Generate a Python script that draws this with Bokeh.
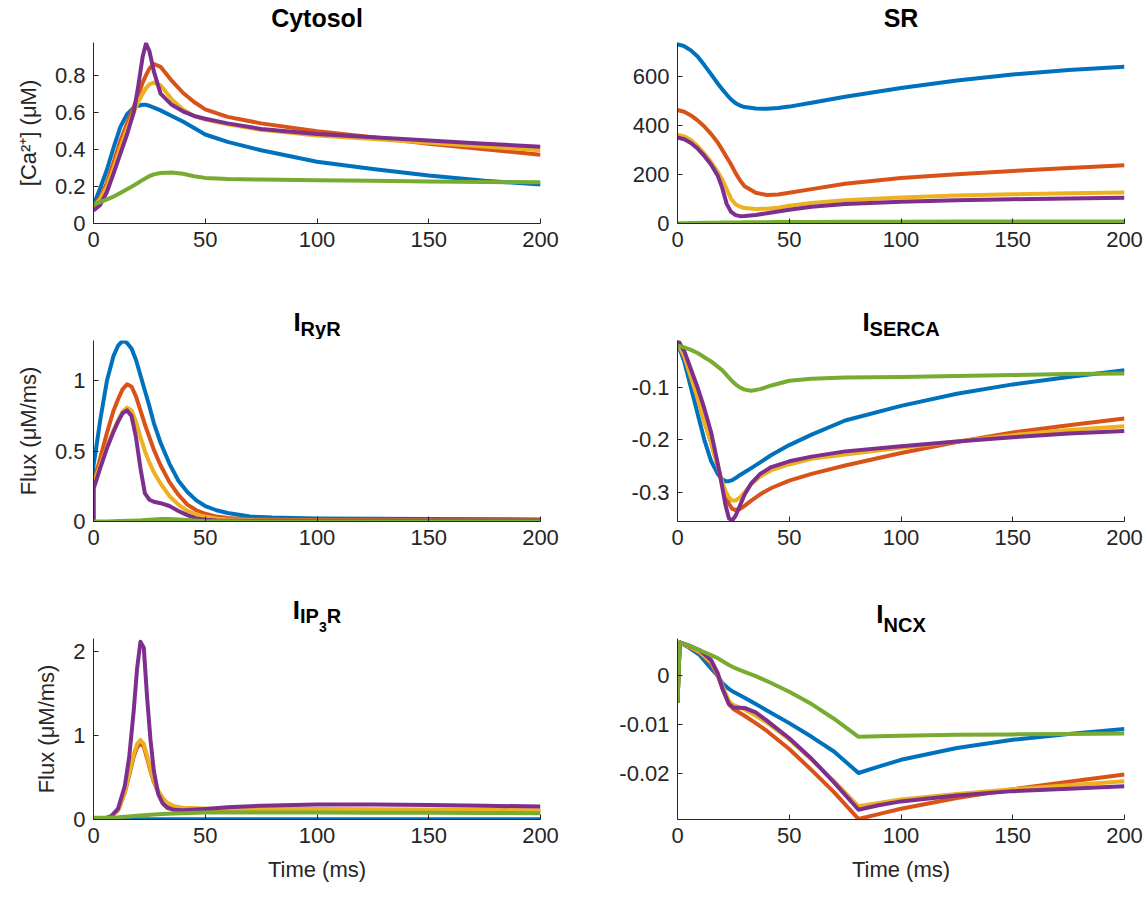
from bokeh.plotting import figure
from bokeh.layouts import gridplot
from bokeh.models import Range1d, FixedTicker, CustomJSTickFormatter, Label
from bokeh.embed import file_html
from bokeh.resources import INLINE

COLORS = ["#0072BD", "#D95319", "#EDB120", "#7E2F8E", "#77AC30"]
FONT = "Liberation Sans"
AX = "#262626"

# ---------------- Cytosol ----------------
CYTO_T = [0, 3, 6, 9, 12, 15, 18, 20, 22, 23.5, 25, 27, 30, 35, 40, 45, 50, 60, 75, 100, 125, 150, 175, 200]
CYTO_BLUE = [0.10, 0.19, 0.29, 0.41, 0.52, 0.59, 0.625, 0.635, 0.64, 0.64, 0.635, 0.625, 0.61, 0.58, 0.55, 0.515, 0.48, 0.44, 0.395, 0.333, 0.294, 0.259, 0.231, 0.21]
CYTO_ORANGE = [0.09, 0.14, 0.22, 0.33, 0.445, 0.54, 0.63, 0.69, 0.76, 0.80, 0.835, 0.86, 0.845, 0.77, 0.705, 0.655, 0.615, 0.575, 0.54, 0.497, 0.465, 0.43, 0.40, 0.371]
CYTO_YELLOW = [0.09, 0.13, 0.20, 0.30, 0.41, 0.51, 0.60, 0.655, 0.70, 0.73, 0.75, 0.76, 0.745, 0.67, 0.615, 0.58, 0.56, 0.535, 0.505, 0.475, 0.455, 0.435, 0.415, 0.395]
CYTO_PURPLE = [0.07, 0.10, 0.17, 0.27, 0.375, 0.48, 0.60, 0.74, 0.90, 0.97, 0.93, 0.82, 0.70, 0.64, 0.605, 0.58, 0.565, 0.54, 0.51, 0.483, 0.465, 0.447, 0.43, 0.414]
CYTO_GREEN = [0.10, 0.115, 0.13, 0.145, 0.165, 0.185, 0.205, 0.22, 0.235, 0.245, 0.255, 0.265, 0.272, 0.275, 0.268, 0.255, 0.246, 0.24, 0.237, 0.233, 0.23, 0.227, 0.224, 0.222]

# ---------------- SR ----------------
SR_T = [0, 3, 6, 9, 12, 15, 18, 20, 22, 24, 26, 28, 30, 35, 40, 45, 50, 60, 75, 100, 125, 150, 175, 200]
SR_BLUE = [730, 722, 705, 680, 645, 608, 570, 547, 525, 505, 490, 480, 474, 468, 467, 470, 476, 492, 516, 552, 582, 607, 625, 638]
SR_ORANGE = [462, 455, 440, 420, 395, 365, 330, 300, 270, 240, 205, 175, 152, 125, 116, 118, 125, 140, 162, 185, 201, 214, 226, 237]
SR_YELLOW = [362, 355, 340, 315, 285, 250, 210, 180, 140, 100, 78, 68, 63, 59, 60, 64, 72, 84, 95, 106, 114, 119, 123, 126]
SR_PURPLE = [350, 343, 328, 305, 275, 240, 195, 145, 80, 47, 34, 30, 31, 35, 42, 49, 56, 68, 79, 89, 95, 99, 102, 105]
SR_GREEN = [1, 1, 2, 2, 3, 3, 3, 4, 4, 4, 4, 4, 5, 5, 5, 6, 6, 6, 7, 7, 8, 8, 8, 8]

# ---------------- I_RyR ----------------
RYR_T = [0, 0, 1, 3, 6, 9, 11, 13, 15, 17, 19, 21, 23, 25, 27, 30, 34, 38, 42, 46, 50, 55, 60, 70, 80, 100, 150, 200]
RYR_BLUE = [0, 0.40, 0.50, 0.72, 1.00, 1.18, 1.25, 1.285, 1.27, 1.23, 1.15, 1.04, 0.93, 0.82, 0.70, 0.56, 0.41, 0.29, 0.21, 0.15, 0.11, 0.08, 0.06, 0.035, 0.028, 0.022, 0.018, 0.015]
RYR_ORANGE = [0, 0.28, 0.33, 0.45, 0.63, 0.79, 0.87, 0.94, 0.975, 0.96, 0.89, 0.79, 0.69, 0.60, 0.51, 0.40, 0.28, 0.19, 0.12, 0.08, 0.055, 0.035, 0.025, 0.015, 0.012, 0.010, 0.009, 0.008]
RYR_YELLOW = [0, 0.27, 0.31, 0.40, 0.53, 0.65, 0.72, 0.78, 0.81, 0.79, 0.71, 0.60, 0.50, 0.42, 0.35, 0.27, 0.18, 0.12, 0.075, 0.05, 0.035, 0.022, 0.015, 0.010, 0.008, 0.007, 0.006, 0.006]
RYR_PURPLE = [0, 0.23, 0.28, 0.38, 0.52, 0.64, 0.71, 0.77, 0.79, 0.75, 0.60, 0.38, 0.20, 0.155, 0.14, 0.13, 0.11, 0.075, 0.045, 0.022, 0.012, 0.008, 0.006, 0.005, 0.005, 0.005, 0.005, 0.005]
RYR_GREEN = [0, 0, 0, 0, 0, 0.002, 0.003, 0.004, 0.005, 0.006, 0.007, 0.008, 0.010, 0.012, 0.014, 0.017, 0.018, 0.015, 0.010, 0.006, 0.003, 0.002, 0.001, 0, 0, 0, 0, 0]

# ---------------- I_SERCA ----------------
SERCA_T = [0, 3, 6, 9, 12, 15, 18, 20, 21.5, 23, 24.5, 26, 28, 30, 33, 37, 42, 50, 60, 75, 100, 125, 150, 175, 200]
SERCA_BLUE = [-0.015, -0.05, -0.10, -0.15, -0.20, -0.24, -0.265, -0.275, -0.279, -0.279, -0.277, -0.273, -0.267, -0.262, -0.254, -0.243, -0.229, -0.21, -0.19, -0.163, -0.135, -0.112, -0.094, -0.08, -0.067]
SERCA_ORANGE = [-0.013, -0.04, -0.08, -0.12, -0.165, -0.205, -0.25, -0.283, -0.305, -0.322, -0.332, -0.334, -0.332, -0.326, -0.316, -0.304, -0.292, -0.278, -0.265, -0.249, -0.225, -0.204, -0.186, -0.172, -0.159]
SERCA_YELLOW = [-0.013, -0.04, -0.08, -0.12, -0.165, -0.205, -0.25, -0.28, -0.298, -0.31, -0.316, -0.316, -0.31, -0.30, -0.285, -0.27, -0.258, -0.247, -0.236, -0.228, -0.215, -0.203, -0.191, -0.181, -0.174]
SERCA_PURPLE = [-0.008, -0.03, -0.065, -0.10, -0.14, -0.185, -0.245, -0.29, -0.325, -0.35, -0.354, -0.345, -0.325, -0.305, -0.283, -0.265, -0.252, -0.241, -0.232, -0.222, -0.212, -0.203, -0.195, -0.188, -0.183]
SERCA_GREEN = [-0.02, -0.023, -0.028, -0.034, -0.042, -0.05, -0.06, -0.067, -0.074, -0.081, -0.088, -0.094, -0.10, -0.104, -0.106, -0.103, -0.096, -0.087, -0.083, -0.081, -0.08, -0.078, -0.076, -0.074, -0.073]

# ---------------- I_IP3R ----------------
IP3R_T = [0, 5, 8, 11, 14, 16, 18, 19.5, 21, 22.5, 24, 25.5, 27, 29, 31, 33, 36, 40, 50, 60, 75, 100, 125, 150, 175, 200]
IP3R_BLUE = [0, 0.001, 0.001, 0.001, 0.002, 0.002, 0.002, 0.002, 0.002, 0.002, 0.002, 0.002, 0.002, 0.002, 0.002, 0.002, 0.002, 0.002, 0.002, 0.002, 0.002, 0.002, 0.002, 0.002, 0.002, 0.002]
IP3R_ORANGE = [0, 0.01, 0.04, 0.11, 0.32, 0.53, 0.75, 0.86, 0.91, 0.87, 0.73, 0.58, 0.45, 0.32, 0.24, 0.19, 0.15, 0.13, 0.12, 0.117, 0.115, 0.115, 0.113, 0.11, 0.105, 0.10]
IP3R_YELLOW = [0, 0.01, 0.04, 0.11, 0.33, 0.55, 0.78, 0.90, 0.95, 0.90, 0.76, 0.60, 0.47, 0.34, 0.26, 0.20, 0.16, 0.14, 0.13, 0.127, 0.125, 0.125, 0.123, 0.12, 0.115, 0.11]
IP3R_PURPLE = [0, 0.01, 0.04, 0.13, 0.40, 0.75, 1.30, 1.80, 2.12, 2.05, 1.45, 0.95, 0.58, 0.30, 0.19, 0.14, 0.115, 0.11, 0.125, 0.145, 0.165, 0.178, 0.18, 0.172, 0.163, 0.155]
IP3R_GREEN = [0.02, 0.022, 0.025, 0.028, 0.033, 0.037, 0.041, 0.044, 0.047, 0.05, 0.053, 0.056, 0.059, 0.063, 0.066, 0.069, 0.073, 0.076, 0.083, 0.085, 0.085, 0.083, 0.082, 0.08, 0.078, 0.075]

# ---------------- I_NCX ----------------
NCX_T = [0, 1, 5, 10, 15, 18, 20, 23, 25, 30, 35, 40, 50, 60, 70, 81, 90, 100, 125, 150, 175, 200]
NCX_BLUE = [-0.0055, 0.0068, 0.0058, 0.0042, 0.0015, 0.0, -0.0015, -0.0027, -0.0033, -0.0045, -0.0058, -0.0071, -0.0097, -0.0125, -0.0155, -0.0199, -0.0186, -0.0172, -0.0148, -0.0131, -0.0119, -0.0109]
NCX_ORANGE = [-0.0055, 0.0068, 0.006, 0.0047, 0.0025, 0.0, -0.0025, -0.0058, -0.0068, -0.0082, -0.0097, -0.0113, -0.015, -0.0193, -0.0238, -0.0293, -0.0283, -0.0272, -0.025, -0.0232, -0.0217, -0.0202]
NCX_YELLOW = [-0.0055, 0.0068, 0.006, 0.0048, 0.0028, 0.0004, -0.002, -0.0052, -0.006, -0.0069, -0.0082, -0.0096, -0.013, -0.0172, -0.0215, -0.0267, -0.026, -0.0253, -0.0242, -0.0232, -0.0224, -0.0216]
NCX_PURPLE = [-0.0055, 0.0068, 0.0062, 0.0052, 0.0032, 0.0005, -0.0025, -0.0058, -0.0065, -0.0066, -0.0075, -0.0092, -0.0128, -0.017, -0.0218, -0.0274, -0.0265, -0.0257, -0.0245, -0.0236, -0.0231, -0.0226]
NCX_GREEN = [-0.0055, 0.0068, 0.0062, 0.0052, 0.0042, 0.0036, 0.003, 0.0022, 0.0017, 0.0008, -0.0001, -0.0011, -0.0033, -0.0058, -0.0088, -0.0125, -0.0124, -0.0123, -0.0121, -0.012, -0.0119, -0.0118]

X_TICKS = [0, 50, 100, 150, 200]

FIG_W = 574
TITLE_H = [40, 76, 75]            # title strip heights (rows 1..3)
PANEL_H = [223, 223, 260]         # panel figure heights
COL_BORDERS = [(93, 34), (103, 24)]           # left, right
ROW_BORDERS = [(2, 40), (1, 41), (1, 78)]     # top, bottom

fmt = CustomJSTickFormatter(code="return String(Math.round(tick*1e6)/1e6);")

CHAR_W = {"I": 0.278, "R": 0.722, "y": 0.556, "S": 0.667, "E": 0.667, "C": 0.722, "A": 0.722,
          "P": 0.667, "N": 0.722, "X": 0.667, "3": 0.556, "t": 0.333, "o": 0.611, "s": 0.556, "l": 0.278}


def text_w(txt, size):
    return sum(CHAR_W.get(ch, 0.6) for ch in txt) * size


def make_title(row, col, parts):
    """parts: (text, font px, baseline distance above the strip's bottom edge)"""
    lb, rb = COL_BORDERS[col]
    t = figure(width=FIG_W, height=TITLE_H[row], x_range=Range1d(0, 1), y_range=Range1d(0, 1),
               output_backend="svg", toolbar_location=None,
               x_axis_location=None, y_axis_location=None,
               min_border_left=lb, min_border_right=rb, min_border_top=0, min_border_bottom=0)
    t.grid.visible = False
    t.outline_line_color = None
    fw = FIG_W - lb - rb            # frame is aligned with the panel frame below
    total = sum(text_w(txt, size) for txt, size, by in parts)
    x = fw / 2 - total / 2
    for txt, size, by in parts:
        t.add_layout(Label(x=x, y=by + 0.3 * size, x_units="screen", y_units="screen", text=txt,
                           text_font=FONT, text_font_size=f"{size}px", text_font_style="bold",
                           text_color="black", text_align="left", text_baseline="alphabetic"))
        x += text_w(txt, size)
    return t


def make_panel(row, col, t, series, yr, yticks, ylabel=None, xlabel=None):
    lb, rb = COL_BORDERS[col]
    tb, bb = ROW_BORDERS[row]
    p = figure(width=FIG_W, height=PANEL_H[row], x_range=Range1d(0, 200), y_range=Range1d(*yr),
               output_backend="svg", toolbar_location=None,
               min_border_left=lb, min_border_right=rb, min_border_top=tb, min_border_bottom=bb)
    p.grid.visible = False
    p.outline_line_color = None
    for s, c in zip(series, COLORS):
        p.line(t, s, line_color=c, line_width=4, line_join="round")
    for ax, ticks in ((p.xaxis[0], X_TICKS), (p.yaxis[0], yticks)):
        ax.ticker = FixedTicker(ticks=ticks, minor_ticks=[])
        ax.formatter = fmt
        ax.axis_line_color = AX
        ax.axis_line_width = 1
        ax.major_tick_line_color = AX
        ax.major_tick_in = 5
        ax.major_tick_out = 0
        ax.minor_tick_line_color = None
        ax.major_label_text_font = FONT
        ax.major_label_text_font_size = "22px"
        ax.major_label_text_color = AX
        ax.major_label_standoff = 8
        ax.axis_label_text_font = FONT
        ax.axis_label_text_font_size = "22px"
        ax.axis_label_text_font_style = "normal"
        ax.axis_label_text_color = AX
        ax.axis_label_standoff = 11
    if ylabel:
        p.yaxis[0].axis_label = ylabel
    if xlabel:
        p.xaxis[0].axis_label = xlabel
    return p


# titles: baseline distances measured from the bottom of each title strip
t1 = make_title(0, 0, [("Cytosol", 25, 15)])
t2 = make_title(0, 1, [("SR", 25, 15)])
t3 = make_title(1, 0, [("I", 26, 10), ("RyR", 20, 5)])
t4 = make_title(1, 1, [("I", 26, 10), ("SERCA", 20, 5)])
t5 = make_title(2, 0, [("I", 26, 20), ("IP", 20, 16), ("3", 14, 6), ("R", 20, 16)])
t6 = make_title(2, 1, [("I", 26, 16), ("NCX", 20, 7)])

p1 = make_panel(0, 0, CYTO_T, [CYTO_BLUE, CYTO_ORANGE, CYTO_YELLOW, CYTO_PURPLE, CYTO_GREEN],
                (0, 0.976), [0, 0.2, 0.4, 0.6, 0.8], ylabel="[Ca²⁺] (μM)")
p2 = make_panel(0, 1, SR_T, [SR_BLUE, SR_ORANGE, SR_YELLOW, SR_PURPLE, SR_GREEN],
                (0, 737), [0, 200, 400, 600])
p3 = make_panel(1, 0, RYR_T, [RYR_BLUE, RYR_ORANGE, RYR_YELLOW, RYR_PURPLE, RYR_GREEN],
                (0, 1.287), [0, 0.5, 1], ylabel="Flux (μM/ms)")
p4 = make_panel(1, 1, SERCA_T, [SERCA_BLUE, SERCA_ORANGE, SERCA_YELLOW, SERCA_PURPLE, SERCA_GREEN],
                (-0.356, -0.0101), [-0.3, -0.2, -0.1])
p5 = make_panel(2, 0, IP3R_T, [IP3R_BLUE, IP3R_ORANGE, IP3R_YELLOW, IP3R_PURPLE, IP3R_GREEN],
                (0, 2.16), [0, 1, 2], ylabel="Flux (μM/ms)", xlabel="Time (ms)")
p6 = make_panel(2, 1, NCX_T, [NCX_BLUE, NCX_ORANGE, NCX_YELLOW, NCX_PURPLE, NCX_GREEN],
                (-0.0294, 0.0076), [-0.02, -0.01, 0], xlabel="Time (ms)")

grid = gridplot([[t1, t2], [p1, p2], [t3, t4], [p3, p4], [t5, t6], [p5, p6]], toolbar_location=None)
open("out.html", "w").write(file_html(grid, INLINE))
